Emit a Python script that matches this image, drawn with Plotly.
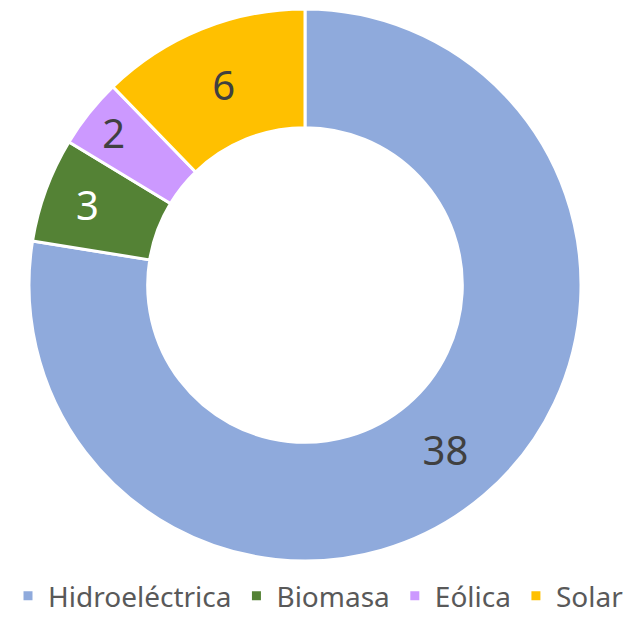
import plotly.graph_objects as go

fuentes = ['Hidroeléctrica', 'Biomasa', 'Eólica', 'Solar']
valores = [38, 3, 2, 6]
colores = ['#8FAADC', '#548235', '#CC99FF', '#FFC000']
color_texto = ['#404040', '#FFFFFF', '#404040', '#404040']

# la página deja 8px de margen en el body, así que la figura se hace 8px más pequeña
W, H = 636, 613

fig = go.Figure(go.Pie(
    labels=fuentes,
    values=valores,
    hole=0.57,
    sort=False,
    direction='clockwise',
    rotation=0,
    marker=dict(colors=colores, line=dict(color='white', width=3)),
    textinfo='value',
    textposition='inside',
    insidetextorientation='horizontal',
    textfont=dict(size=40, color=color_texto, family='Noto Sans'),
    domain=dict(x=[21/W, 573/W], y=[60/H, 612/H]),
))

fig.update_layout(
    width=W, height=H,
    margin=dict(l=0, r=0, t=0, b=0),
    paper_bgcolor='white',
    font=dict(family='Noto Sans', color='#595959'),
    legend=dict(orientation='h', x=0.48, xanchor='center', y=0.0, yanchor='bottom',
                font=dict(size=28, color='#595959'), itemclick=False,
                tracegroupgap=0),
)

fig.write_html("out.html")
